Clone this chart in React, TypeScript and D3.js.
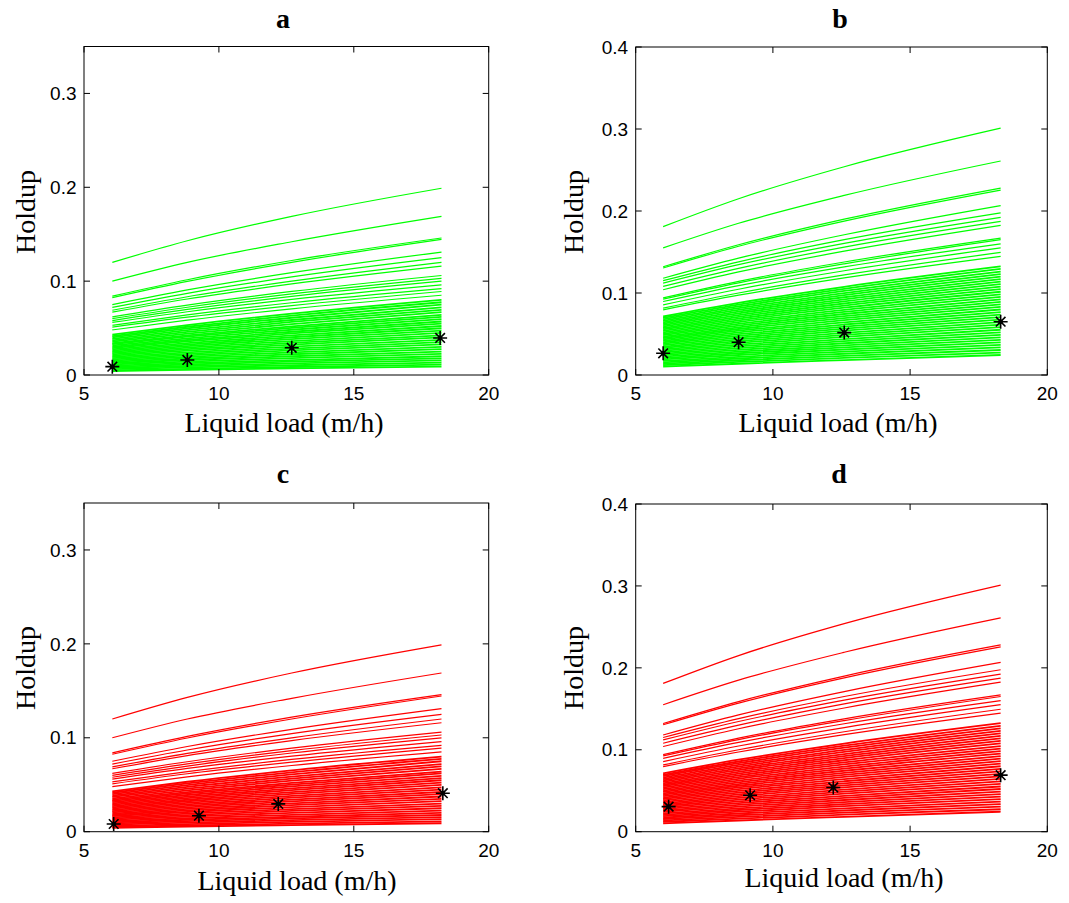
import * as d3 from 'd3';

// tick values
const xTicks = [5, 10, 15, 20];
const yTicksAC = [0, 0.1, 0.2, 0.3];
const yTicksBD = [0, 0.1, 0.2, 0.3, 0.4];

// liquid loads (m/h) at which the predicted curves are given
const curveLoadsAC = [6.05, 8.83, 12.7, 18.25];
const curveLoadsBD = [6.0, 8.75, 12.6, 18.3];

// liquid loads (m/h) of the measured points, one set per panel
const loadsA = [6.05, 8.83, 12.7, 18.2];
const loadsB = [6.0, 8.75, 12.6, 18.3];
const loadsC = [6.1, 9.26, 12.2, 18.3];
const loadsD = [6.2, 9.17, 12.2, 18.3];

// measured holdup (black stars)
const measuredA = [0.0089, 0.016, 0.029, 0.0395];
const measuredB = [0.0265, 0.04, 0.0517, 0.065];
const measuredC = [0.0082, 0.017, 0.0296, 0.041];
const measuredD = [0.0306, 0.0445, 0.054, 0.069];

// predicted holdup curves, value at each of the four curve loads
// (first 15 are the spread-out upper curves, the rest form the dense band)
const curvesAC = [
  [0.12, 0.143, 0.169, 0.199],
  [0.1, 0.12, 0.142, 0.169],
  [0.084, 0.1015, 0.122, 0.146],
  [0.0825, 0.0998, 0.12, 0.1445],
  [0.075, 0.0907, 0.109, 0.131],
  [0.072, 0.087, 0.1045, 0.125],
  [0.069, 0.0834, 0.1, 0.12],
  [0.067, 0.081, 0.097, 0.116],
  [0.062, 0.0745, 0.089, 0.106],
  [0.06, 0.0722, 0.0864, 0.103],
  [0.058, 0.0699, 0.0838, 0.1],
  [0.056, 0.0674, 0.0805, 0.096],
  [0.053, 0.064, 0.077, 0.092],
  [0.051, 0.0617, 0.074, 0.089],
  [0.048, 0.0584, 0.0705, 0.085],
  [0.043, 0.0532, 0.0653, 0.08],
  [0.0415, 0.0514, 0.0632, 0.0775],
  [0.04, 0.0496, 0.061, 0.075],
  [0.0385, 0.0477, 0.0586, 0.072],
  [0.037, 0.0459, 0.0565, 0.0695],
  [0.0355, 0.0441, 0.0543, 0.067],
  [0.034, 0.0422, 0.0519, 0.064],
  [0.0328, 0.0408, 0.0502, 0.062],
  [0.0315, 0.0391, 0.0482, 0.0595],
  [0.03, 0.0373, 0.0461, 0.057],
  [0.0287, 0.0358, 0.0443, 0.0548],
  [0.0273, 0.034, 0.0422, 0.0522],
  [0.026, 0.0324, 0.0402, 0.0498],
  [0.0247, 0.0308, 0.0382, 0.0473],
  [0.0233, 0.0291, 0.0362, 0.0448],
  [0.022, 0.0275, 0.0342, 0.0423],
  [0.0207, 0.0259, 0.0323, 0.04],
  [0.0193, 0.0242, 0.0302, 0.0375],
  [0.018, 0.0226, 0.0282, 0.035],
  [0.0167, 0.021, 0.0262, 0.0326],
  [0.0153, 0.0193, 0.0241, 0.03],
  [0.014, 0.0176, 0.0221, 0.0276],
  [0.0127, 0.016, 0.02, 0.025],
  [0.0113, 0.0143, 0.018, 0.0225],
  [0.01, 0.0127, 0.0159, 0.02],
  [0.0088, 0.0112, 0.0142, 0.0178],
  [0.0075, 0.0096, 0.0123, 0.0155],
  [0.0062, 0.0081, 0.0104, 0.0133],
  [0.005, 0.0066, 0.0085, 0.011],
  [0.0042, 0.0055, 0.007, 0.009],
];

const curvesBD = [
  [0.181, 0.215, 0.254, 0.301],
  [0.155, 0.185, 0.219, 0.261],
  [0.132, 0.1588, 0.19, 0.228],
  [0.1305, 0.157, 0.1877, 0.2255],
  [0.118, 0.1425, 0.171, 0.2066],
  [0.115, 0.138, 0.165, 0.1977],
  [0.112, 0.1345, 0.1605, 0.1923],
  [0.108, 0.13, 0.156, 0.1874],
  [0.104, 0.1257, 0.151, 0.1825],
  [0.094, 0.1142, 0.1378, 0.167],
  [0.0925, 0.1124, 0.1356, 0.165],
  [0.0896, 0.109, 0.1318, 0.16],
  [0.0856, 0.1046, 0.1271, 0.155],
  [0.0815, 0.1, 0.122, 0.1495],
  [0.0795, 0.0973, 0.1184, 0.1447],
  [0.0713, 0.0879, 0.1076, 0.1324],
  [0.0695, 0.0857, 0.105, 0.1293],
  [0.0678, 0.0836, 0.1025, 0.1262],
  [0.066, 0.0815, 0.0999, 0.1231],
  [0.0643, 0.0794, 0.0974, 0.12],
  [0.0625, 0.0773, 0.0948, 0.117],
  [0.0608, 0.0752, 0.0923, 0.1139],
  [0.059, 0.073, 0.0897, 0.1108],
  [0.0573, 0.0709, 0.0872, 0.1077],
  [0.0556, 0.0688, 0.0846, 0.1046],
  [0.0538, 0.0667, 0.0821, 0.1015],
  [0.0521, 0.0646, 0.0795, 0.0984],
  [0.0503, 0.0624, 0.0769, 0.0953],
  [0.0486, 0.0603, 0.0744, 0.0923],
  [0.0468, 0.0582, 0.0719, 0.0892],
  [0.0451, 0.0561, 0.0693, 0.0861],
  [0.0434, 0.054, 0.0668, 0.083],
  [0.0416, 0.0519, 0.0642, 0.0799],
  [0.0399, 0.0498, 0.0616, 0.0768],
  [0.0381, 0.0476, 0.0591, 0.0737],
  [0.0364, 0.0455, 0.0565, 0.0706],
  [0.0346, 0.0434, 0.054, 0.0676],
  [0.0329, 0.0413, 0.0514, 0.0645],
  [0.0312, 0.0392, 0.0489, 0.0614],
  [0.0294, 0.037, 0.0464, 0.0583],
  [0.0277, 0.0349, 0.0438, 0.0552],
  [0.0259, 0.0328, 0.0412, 0.0521],
  [0.0242, 0.0307, 0.0387, 0.049],
  [0.0224, 0.0285, 0.0361, 0.0459],
  [0.0207, 0.0265, 0.0336, 0.0429],
  [0.019, 0.0244, 0.0311, 0.0398],
  [0.0172, 0.0222, 0.0285, 0.0367],
  [0.0155, 0.0201, 0.0259, 0.0336],
  [0.0137, 0.018, 0.0233, 0.0305],
  [0.012, 0.0159, 0.0208, 0.0274],
  [0.0102, 0.0137, 0.0182, 0.0244],
];

const panels = [
  { title: 'a', loads: loadsA, measured: measuredA, curveLoads: curveLoadsAC, curves: curvesAC, yTicks: yTicksAC, yMax: 0.35, color: '#00ff00',
    left: 84, right: 488.7, top: 46.5, bottom: 375, titleX: 283, titleY: 28, xlabX: 284, xlabY: 432, ylabX: 35, ylabY: 212 },
  { title: 'b', loads: loadsB, measured: measuredB, curveLoads: curveLoadsBD, curves: curvesBD, yTicks: yTicksBD, yMax: 0.4, color: '#00ff00',
    left: 635.7, right: 1047.3, top: 47, bottom: 375, titleX: 840, titleY: 28, xlabX: 838, xlabY: 432, ylabX: 583, ylabY: 212 },
  { title: 'c', loads: loadsC, measured: measuredC, curveLoads: curveLoadsAC, curves: curvesAC, yTicks: yTicksAC, yMax: 0.35, color: '#ff0000',
    left: 84, right: 488.7, top: 503, bottom: 831.7, titleX: 283, titleY: 483, xlabX: 297, xlabY: 890, ylabX: 35, ylabY: 668 },
  { title: 'd', loads: loadsD, measured: measuredD, curveLoads: curveLoadsBD, curves: curvesBD, yTicks: yTicksBD, yMax: 0.4, color: '#ff0000',
    left: 635.7, right: 1047.3, top: 504, bottom: 831.7, titleX: 839, titleY: 483, xlabX: 844, xlabY: 887, ylabX: 583, ylabY: 668 },
];

const serif = '"Liberation Serif", "Times New Roman", serif';
const sans = '"Liberation Sans", Arial, sans-serif';

function Star({ x, y }) {
  const a = 7;
  const b = 4.8;
  return (
    <g>
      <path
        d={`M${x - a},${y}H${x + a}M${x},${y - a}V${y + a}M${x - b},${y - b}L${x + b},${y + b}M${x - b},${y + b}L${x + b},${y - b}`}
        stroke="#000"
        strokeWidth={1.6}
        fill="none"
      />
      <circle cx={x} cy={y} r={2.2} fill="#000" />
    </g>
  );
}

function Panel({ p }) {
  const x = d3.scaleLinear().domain([5, 20]).range([p.left, p.right]);
  const y = d3.scaleLinear().domain([0, p.yMax]).range([p.bottom, p.top]);
  const line = d3
    .line()
    .curve(d3.curveMonotoneX)
    .x((d) => x(d[0]))
    .y((d) => y(d[1]));
  const tick = 6;
  return (
    <g>
      {p.curves.map((c, i) => (
        <path
          key={i}
          d={line(p.curveLoads.map((l, j) => [l, c[j]]))}
          stroke={p.color}
          strokeWidth={i < 15 ? 1.2 : 1.8}
          fill="none"
        />
      ))}
      {p.measured.map((m, i) => (
        <Star key={i} x={x(p.loads[i])} y={y(m)} />
      ))}
      <rect
        x={p.left}
        y={p.top}
        width={p.right - p.left}
        height={p.bottom - p.top}
        fill="none"
        stroke="#000"
        strokeWidth={1}
      />
      {xTicks.map((t) => (
        <g key={'x' + t}>
          <line x1={x(t)} x2={x(t)} y1={p.bottom} y2={p.bottom - tick} stroke="#000" />
          <line x1={x(t)} x2={x(t)} y1={p.top} y2={p.top + tick} stroke="#000" />
          <text x={x(t)} y={p.bottom + 25} textAnchor="middle" fontFamily={sans} fontSize={19}>
            {t}
          </text>
        </g>
      ))}
      {p.yTicks.map((t) => (
        <g key={'y' + t}>
          <line x1={p.left} x2={p.left + tick} y1={y(t)} y2={y(t)} stroke="#000" />
          <line x1={p.right} x2={p.right - tick} y1={y(t)} y2={y(t)} stroke="#000" />
          <text x={p.left - 7.5} y={y(t)} dy="0.35em" textAnchor="end" fontFamily={sans} fontSize={19}>
            {t}
          </text>
        </g>
      ))}
      <text x={p.titleX} y={p.titleY} textAnchor="middle" fontFamily={serif} fontWeight="bold" fontSize={28}>
        {p.title}
      </text>
      <text x={p.xlabX} y={p.xlabY} textAnchor="middle" fontFamily={serif} fontSize={28}>
        Liquid load (m/h)
      </text>
      <text
        transform={`translate(${p.ylabX},${p.ylabY}) rotate(-90)`}
        textAnchor="middle"
        fontFamily={serif}
        fontSize={28}
      >
        Holdup
      </text>
    </g>
  );
}

export default function App() {
  return (
    <div style={{ position: 'absolute', left: 0, top: 0 }}>
      <svg width={1069} height={903} style={{ display: 'block', background: '#fff' }}>
        {panels.map((p) => (
          <Panel key={p.title} p={p} />
        ))}
      </svg>
    </div>
  );
}
